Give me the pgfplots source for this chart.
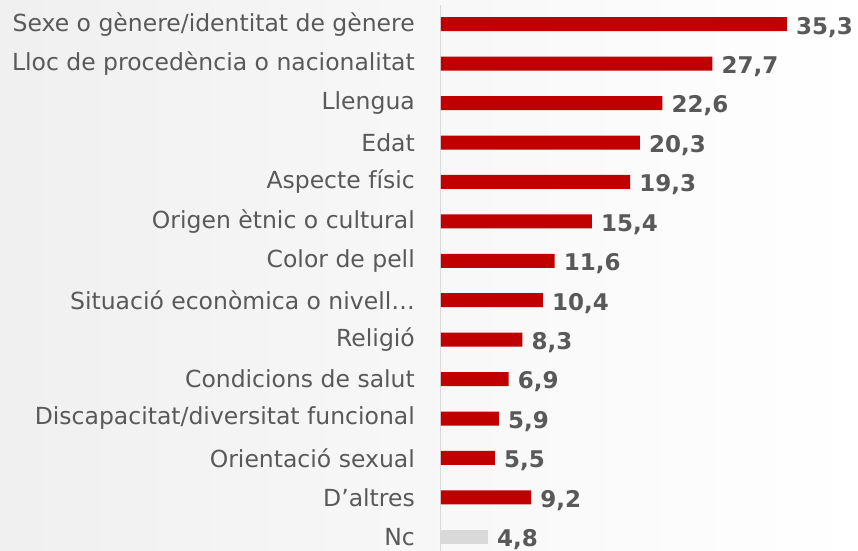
\documentclass[border=0pt]{standalone}
\usepackage{pgfplots}
\pgfplotsset{compat=1.18}
\usepackage{fontspec}
\setmainfont{DejaVu Sans}
\definecolor{barred}{HTML}{C00000}
\definecolor{bargray}{HTML}{D9D9D9}
\definecolor{txt}{HTML}{595959}
\begin{document}
\begin{tikzpicture}
\useasboundingbox (0,0) rectangle (858bp,551bp);
\shade[left color=black!6, right color=white] (0,0) rectangle (858bp,551bp);
\begin{axis}[
  at={(441bp,-5.5bp)}, anchor=south west,
  scale only axis, width=417bp, height=552bp,
  xmin=0, xmax=42.55, ymin=-0.5, ymax=13.5,
  y dir=reverse,
  xbar, bar width=14bp, bar shift=0pt,
  axis x line=none,
  axis y line*=left,
  y axis line style={draw=bargray, line width=1bp, -},
  ytick={0,...,13},
  yticklabels={Sexe o gènere/identitat de gènere,Lloc de procedència o nacionalitat,Llengua,Edat,Aspecte físic,Origen ètnic o cultural,Color de pell,Situació econòmica o nivell…,Religió,Condicions de salut,Discapacitat/diversitat funcional,Orientació sexual,D’altres,Nc},
  major tick length=0pt,
  tick style={draw=none},
  yticklabel style={font=\fontsize{23.5bp}{28bp}\selectfont, text=txt, inner sep=0pt, anchor=east, xshift=-26bp},
  nodes near coords={\pgfmathprintnumber[fixed,fixed zerofill,precision=1,use comma,assume math mode=true]{\pgfplotspointmeta}},
  every node near coord/.append style={font=\bfseries\fontsize{23bp}{27bp}\selectfont, text=txt, inner sep=0pt, anchor=west, xshift=9bp, yshift=-3bp},
  clip=false,
]
\addplot[fill=barred, draw=none] coordinates {(35.3,0) (27.7,1) (22.6,2) (20.3,3) (19.3,4) (15.4,5) (11.6,6) (10.4,7) (8.3,8) (6.9,9) (5.9,10) (5.5,11) (9.2,12)};
\addplot[fill=bargray, draw=none] coordinates {(4.8,13)};
\end{axis}
\end{tikzpicture}
\end{document}
